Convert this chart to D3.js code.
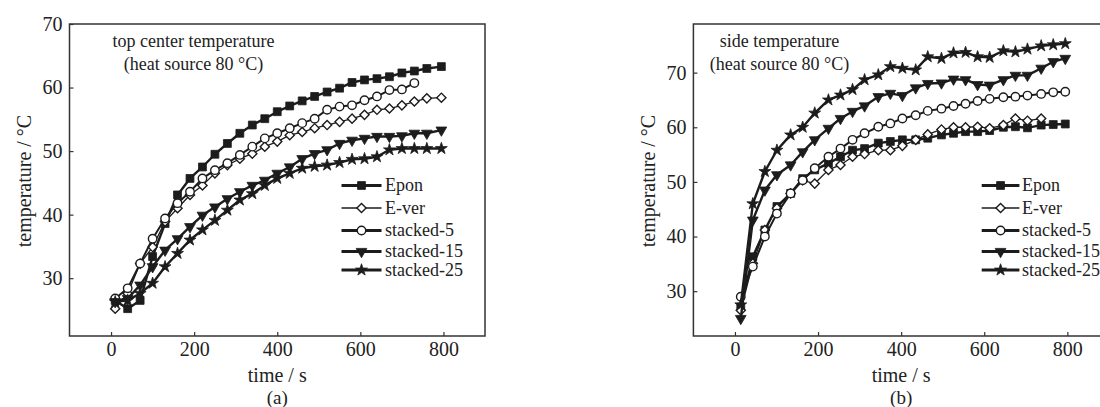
<!DOCTYPE html>
<html><head><meta charset="utf-8">
<script src="https://cdn.jsdelivr.net/npm/d3@7"></script>
<style>
body{margin:0;background:#fff}
svg{display:block}
text{font-family:"Liberation Serif","Times New Roman",serif;fill:#222}
</style>
</head><body>
<svg id="c" width="1100" height="407"></svg>
<script>
// ---------- data ----------
const seriesNames = ["Epon", "E-ver", "stacked-5", "stacked-15", "stacked-25"];
const xTicks = [0, 200, 400, 600, 800];
const yTicksA = [30, 40, 50, 60, 70];
const yTicksB = [30, 40, 50, 60, 70];

// panel (a): top center temperature
const timesA = [10,40,70,100,130,160,190,220,250,280,310,340,370,400,430,460,490,520,550,580,610,640,670,700,730,760,795];
const eponA = [26.5,25.2,26.5,33.4,38.6,43.1,45.7,47.5,49.5,51.2,52.8,54.1,55.1,56.2,57.1,57.9,58.6,59.3,59.9,60.8,61.2,61.4,61.7,62.3,62.6,63.0,63.3];
const everA = [25.2,27.6,32.3,34.9,38.9,41.0,43.1,44.6,46.5,47.8,48.8,49.6,50.7,51.5,52.5,53.0,53.6,54.1,54.6,55.1,55.7,56.5,56.7,57.2,57.8,58.3,58.4];
const st5A  = [26.8,28.4,32.3,36.2,39.4,41.8,43.6,45.7,47.0,48.1,49.4,50.7,52.0,52.8,53.6,54.4,55.1,56.5,57.0,57.2,58.0,58.6,59.6,59.7,60.7];
const st15A = [26.3,26.8,28.9,31.8,34.4,36.2,38.1,39.9,41.2,42.5,43.6,44.6,45.4,46.5,47.5,48.8,49.6,50.2,51.2,51.7,52.0,52.3,52.3,52.4,52.8,52.8,53.3];
const st25A = [26.3,26.5,27.6,29.2,31.8,33.9,36.0,37.6,39.1,40.7,42.3,43.3,44.6,45.7,46.5,47.3,47.6,47.8,48.2,48.7,48.8,49.1,50.2,50.4,50.4,50.4,50.4];

// panel (b): side temperature
const timesB = [14,43,72,101,134,163,192,225,254,283,312,345,374,403,435,464,497,526,555,584,613,646,675,704,737,766,795];
const eponB = [27.1,36.3,41.2,45.5,47.9,50.6,52.2,53.4,54.6,55.8,56.1,57.1,57.4,57.7,57.7,58.0,58.6,58.9,59.2,59.2,59.4,60.0,60.1,59.9,60.4,60.5,60.6];
const everB = [26.5,35.1,41.2,45.2,47.9,50.3,49.7,52.2,53.1,54.6,55.1,55.8,55.8,56.6,57.7,58.7,59.6,60.0,60.0,60.1,59.8,60.4,61.6,61.2,61.6];
const st5B  = [29.0,34.5,40.0,44.2,47.9,50.3,52.5,54.6,56.1,57.7,58.9,60.1,60.7,61.6,62.2,63.0,63.4,63.9,64.3,64.8,65.2,65.5,65.6,65.8,66.1,66.4,66.5];
const st15B = [25.0,43.0,48.5,51.3,53.1,55.5,57.7,59.8,61.6,62.9,63.9,65.6,66.2,65.8,67.2,68.0,68.1,68.8,68.7,67.8,67.7,68.7,69.5,69.5,70.8,72.0,72.6];
const st25B = [27.5,46.0,51.9,55.8,58.6,60.0,62.6,65.0,65.9,66.9,68.7,69.6,71.1,70.8,70.5,72.9,72.6,73.6,73.7,72.9,72.8,74.0,73.8,74.3,74.9,75.1,75.3];

const panelA = {
  left: 69.5, yDomain: [20.9, 70], yTicks: yTicksA, times: timesA,
  series: [eponA, everA, st5A, st15A, st25A],
  note: ["top center temperature", "(heat source 80 °C)"], noteX: 193.5 - 69.5,
  legendLine: [272, 312], legendText: 315.5, tag: "(a)"
};
const panelB = {
  left: 693.4, yDomain: [21.8, 78.9], yTicks: yTicksB, times: timesB,
  series: [eponB, everB, st5B, st15B, st25B],
  note: ["side temperature", "(heat source 80 °C)"], noteX: 779.5 - 693.4,
  legendLine: [288.3, 326], legendText: 328.6, tag: "(b)"
};

// ---------- style ----------
const W = 415.5, H = 312, TOP = 24;
const xDomain = [-100, 900];
const ink = "#1c1c1c";
const styles = [
  {type: d3.symbolSquare,   size: 62, fill: true,  rot: 0,   lw: 2.4},
  {type: d3.symbolSquare,   size: 42, fill: false, rot: 45,  lw: 1.3},
  {type: d3.symbolCircle,   size: 56, fill: false, rot: 0,   lw: 2.0},
  {type: d3.symbolTriangle, size: 50, fill: true,  rot: 180, lw: 2.4},
  {type: d3.symbolStar,     size: 44, fill: true,  rot: 0,   lw: 2.4}
];
const legendRows = [185.5, 208, 230.5, 251.5, 270];

const svg = d3.select("#c");

function drawPanel(p) {
  const g = svg.append("g").attr("transform", `translate(${p.left},${TOP})`);
  const x = d3.scaleLinear().domain(xDomain).range([0, W]);
  const y = d3.scaleLinear().domain(p.yDomain).range([H, 0]);

  // series
  p.series.forEach((vals, si) => {
    const st = styles[si];
    const pts = vals.map((v, i) => [p.times[i], v]);
    g.append("path")
      .attr("d", d3.line().x(d => x(d[0])).y(d => y(d[1]))(pts))
      .attr("fill", "none").attr("stroke", ink).attr("stroke-width", st.lw)
      .attr("stroke-linejoin", "round");
    const sym = d3.symbol().type(st.type).size(st.size);
    g.append("g").selectAll("path").data(pts).join("path")
      .attr("d", sym)
      .attr("transform", d => `translate(${x(d[0])},${y(d[1])}) rotate(${st.rot})`)
      .attr("fill", st.fill ? ink : "#fff")
      .attr("stroke", ink).attr("stroke-width", st.fill ? 0.8 : 1.4);
  });

  // frame
  g.append("rect").attr("x", 0).attr("y", 0).attr("width", W).attr("height", H)
    .attr("fill", "none").attr("stroke", "#333").attr("stroke-width", 1.5);

  // axes
  const xa = g.append("g").attr("transform", `translate(0,${H})`)
    .call(d3.axisBottom(x).tickValues(xTicks).tickSizeInner(-4).tickSizeOuter(0).tickPadding(6));
  const ya = g.append("g")
    .call(d3.axisLeft(y).tickValues(p.yTicks).tickSizeInner(-4).tickSizeOuter(0).tickPadding(7));
  [xa, ya].forEach(a => {
    a.select(".domain").remove();
    a.selectAll("line").attr("stroke", "#333").attr("stroke-width", 1.2);
    a.selectAll("text").attr("font-size", 20).attr("font-family", "Liberation Serif").attr("fill", "#222");
  });

  // titles
  g.append("text").attr("x", x(400)).attr("y", 358).attr("text-anchor", "middle")
    .attr("font-size", 20).text("time / s");
  g.append("text").attr("x", x(400)).attr("y", 380).attr("text-anchor", "middle")
    .attr("font-size", 19).text(p.tag);
  g.append("text").attr("transform", `translate(${-38.5},157) rotate(-90)`)
    .attr("text-anchor", "middle").attr("font-size", 20).text("temperature / °C");

  // annotation
  g.append("text").attr("x", p.noteX).attr("y", 23).attr("text-anchor", "middle")
    .attr("font-size", 18).text(p.note[0]);
  g.append("text").attr("x", p.noteX).attr("y", 46).attr("text-anchor", "middle")
    .attr("font-size", 18).text(p.note[1]);

  // legend
  seriesNames.forEach((name, si) => {
    const st = styles[si];
    const ly = legendRows[si] - TOP;
    const lx = (p.legendLine[0] + p.legendLine[1]) / 2;
    g.append("line").attr("x1", p.legendLine[0]).attr("x2", p.legendLine[1])
      .attr("y1", ly).attr("y2", ly).attr("stroke", ink)
      .attr("stroke-width", si === 1 ? 1.4 : 3);
    g.append("path").attr("d", d3.symbol().type(st.type).size(st.size)())
      .attr("transform", `translate(${lx},${ly}) rotate(${st.rot})`)
      .attr("fill", st.fill ? ink : "#fff").attr("stroke", ink)
      .attr("stroke-width", st.fill ? 0.8 : 1.4);
    g.append("text").attr("x", p.legendText).attr("y", ly + 5.5)
      .attr("font-size", 18).text(name);
  });
}

drawPanel(panelA);
drawPanel(panelB);
</script>
</body></html>
